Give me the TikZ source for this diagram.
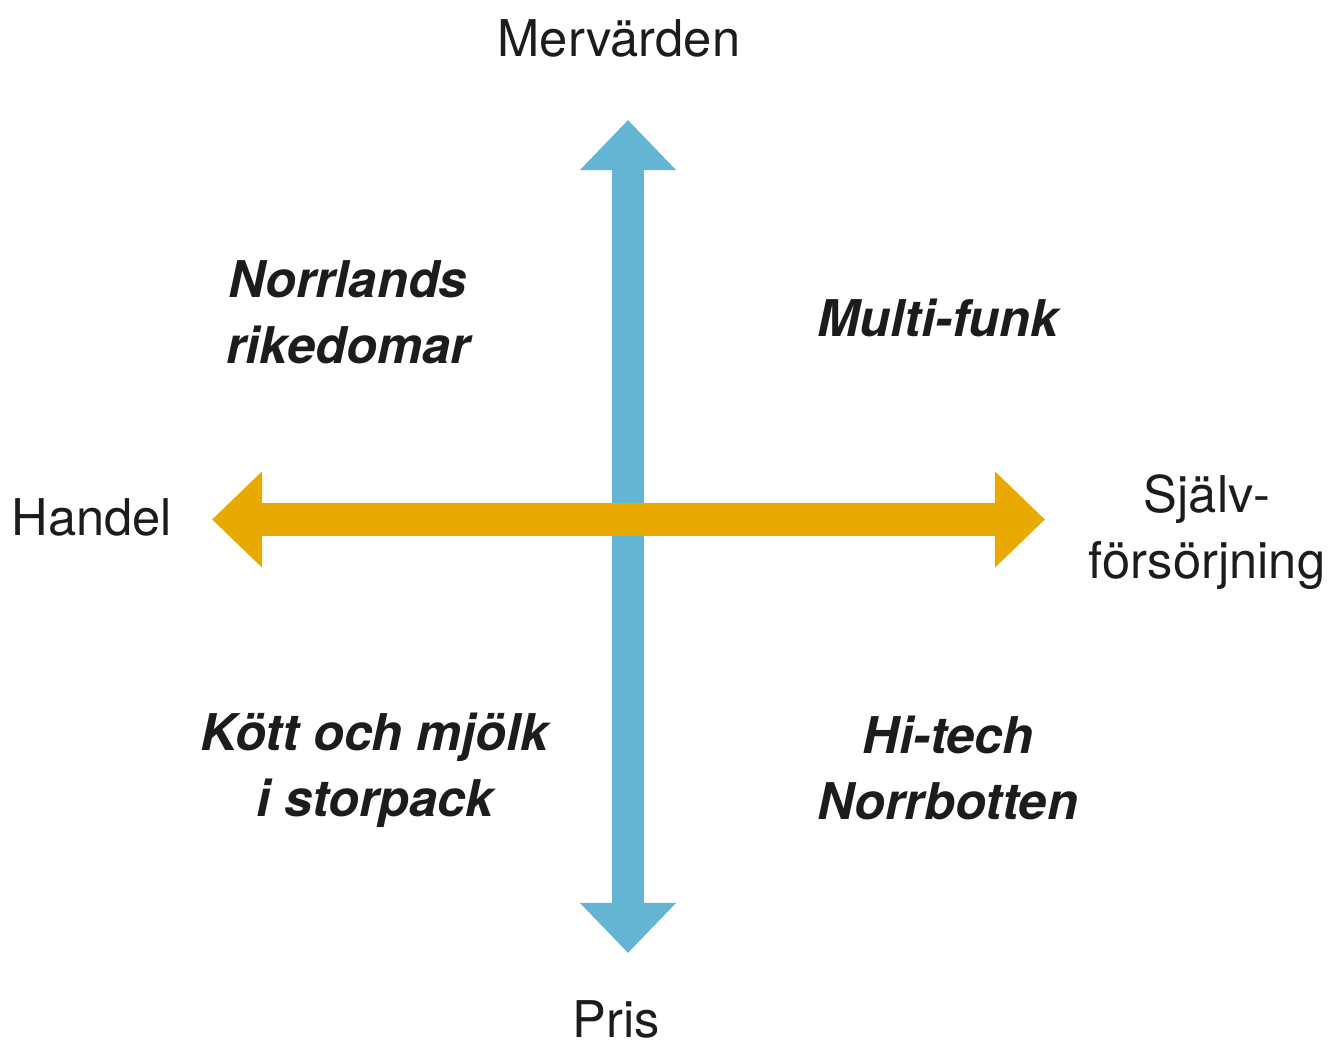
\documentclass[tikz,border=0pt]{standalone}
\usepackage{fontspec}
\setmainfont{TeX Gyre Heros}
\usepackage{xcolor}
\usepackage{tikz}
\usetikzlibrary{arrows.meta}
\definecolor{axisblue}{HTML}{64B4D4}
\definecolor{axisgold}{HTML}{E8A900}
\definecolor{ink}{HTML}{1C1C1C}
\tikzset{
  axis/.style={line width=0.32cm, {Triangle[length=0.5cm, width=0.93cm]}-{Triangle[length=0.5cm, width=0.93cm]}},
  pole/.style={text=ink, align=center, inner sep=0pt, font=\fontsize{14.4}{18.8}\selectfont},
  field/.style={text=ink, align=center, inner sep=0pt, font=\fontsize{14.4}{18.8}\selectfont\bfseries\itshape}
}

\begin{document}
\begin{tikzpicture}[x=0.01cm, y=-0.01cm]      % pixel grid
    \useasboundingbox (0, 0) rectangle (1332, 1043);
    \coordinate (up) at (628, 120);
    \coordinate (down) at (628, 953);
    \coordinate (west) at (212, 519.5);
    \coordinate (east) at (1045, 519.5);

    \draw[axis, axisblue] (down) -- (up);
    \draw[axis, axisgold] (west) -- (east);

    % poles
    \node[pole] at (619, 38) (merv) {Mervärden};
    \node[pole] at (616, 1019) (pris) {Pris};
    \node[pole] at (92, 517) (handel) {Handel};
    \node[pole] at (1207, 532) (sjalv) {Själv-\\försörjning};

    % scenarier
    \node[field] at (348, 312) (norr) {Norrlands\\rikedomar};
    \node[field] at (938, 318) (multi) {Multi-funk};
    \node[field] at (375, 770) (kott) {Kött och mjölk\\i storpack};
    \node[field] at (948, 768) (hitech) {Hi-tech\\Norrbotten};
\end{tikzpicture}
\end{document}
